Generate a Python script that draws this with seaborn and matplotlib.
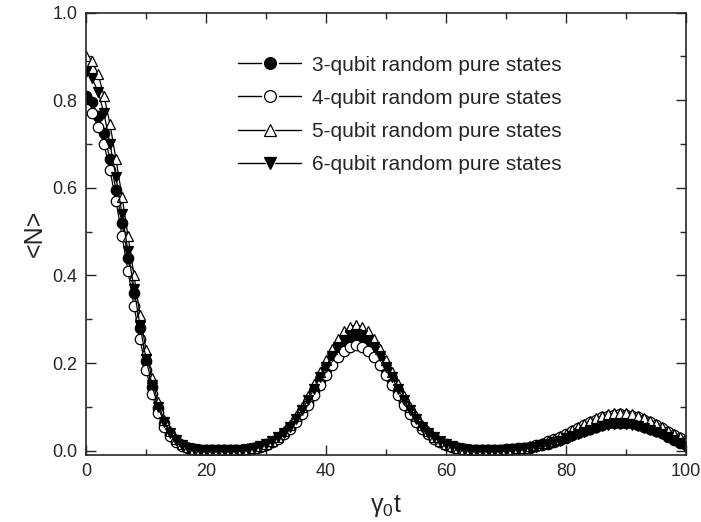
import numpy as np
import pandas as pd
import matplotlib
matplotlib.use("Agg")
import matplotlib.pyplot as plt
import seaborn as sns
from matplotlib.ticker import MultipleLocator
from matplotlib.lines import Line2D
from matplotlib.legend_handler import HandlerTuple

sns.set_style('ticks')
plt.rcParams['font.family'] = ['Liberation Sans', 'DejaVu Sans']
plt.rcParams['mathtext.default'] = 'regular'

# time axis (gamma_0 t), one point per unit
t = list(range(101))

n3 = [0.810, 0.795, 0.765, 0.725, 0.665, 0.595, 0.520, 0.440, 0.360, 0.280,
      0.205, 0.145, 0.097, 0.062, 0.038, 0.022, 0.012, 0.006, 0.003, 0.002,
      0.001, 0.001, 0.001, 0.001, 0.001, 0.001, 0.002, 0.004, 0.006, 0.009,
      0.014, 0.020, 0.029, 0.040, 0.053, 0.070, 0.090, 0.112, 0.136, 0.162,
      0.186, 0.209, 0.230, 0.245, 0.255, 0.258, 0.255, 0.245, 0.230, 0.209,
      0.186, 0.162, 0.136, 0.112, 0.090, 0.070, 0.053, 0.040, 0.029, 0.020,
      0.014, 0.009, 0.006, 0.004, 0.002, 0.001, 0.001, 0.001, 0.001, 0.001,
      0.002, 0.003, 0.004, 0.005, 0.007, 0.010, 0.013, 0.016, 0.020, 0.024,
      0.029, 0.035, 0.040, 0.045, 0.050, 0.055, 0.059, 0.062, 0.063, 0.064,
      0.063, 0.062, 0.059, 0.055, 0.050, 0.045, 0.040, 0.032, 0.025, 0.018,
      0.012]

n4 = [0.780, 0.770, 0.740, 0.700, 0.640, 0.570, 0.490, 0.410, 0.330, 0.255,
      0.185, 0.130, 0.085, 0.055, 0.033, 0.019, 0.010, 0.005, 0.003, 0.001,
      0.001, 0.001, 0.001, 0.001, 0.001, 0.001, 0.002, 0.004, 0.006, 0.009,
      0.013, 0.019, 0.027, 0.037, 0.050, 0.065, 0.084, 0.104, 0.127, 0.150,
      0.173, 0.195, 0.214, 0.228, 0.237, 0.240, 0.237, 0.228, 0.214, 0.195,
      0.173, 0.150, 0.127, 0.104, 0.084, 0.065, 0.050, 0.037, 0.027, 0.019,
      0.013, 0.009, 0.006, 0.004, 0.002, 0.001, 0.001, 0.001, 0.001, 0.002,
      0.003, 0.004, 0.005, 0.007, 0.009, 0.013, 0.016, 0.021, 0.026, 0.032,
      0.038, 0.045, 0.052, 0.059, 0.065, 0.071, 0.076, 0.080, 0.082, 0.083,
      0.082, 0.080, 0.076, 0.071, 0.065, 0.059, 0.052, 0.043, 0.036, 0.029,
      0.023]

n5 = [0.900, 0.890, 0.860, 0.810, 0.745, 0.665, 0.580, 0.490, 0.400, 0.310,
      0.230, 0.165, 0.110, 0.070, 0.045, 0.027, 0.015, 0.008, 0.004, 0.002,
      0.001, 0.001, 0.001, 0.001, 0.001, 0.002, 0.003, 0.004, 0.007, 0.010,
      0.015, 0.022, 0.032, 0.044, 0.059, 0.078, 0.100, 0.125, 0.152, 0.180,
      0.207, 0.233, 0.255, 0.272, 0.283, 0.287, 0.283, 0.272, 0.255, 0.233,
      0.207, 0.180, 0.152, 0.125, 0.100, 0.078, 0.059, 0.044, 0.032, 0.022,
      0.015, 0.010, 0.007, 0.004, 0.003, 0.002, 0.001, 0.001, 0.001, 0.002,
      0.003, 0.004, 0.005, 0.007, 0.010, 0.013, 0.017, 0.021, 0.027, 0.033,
      0.039, 0.046, 0.054, 0.061, 0.068, 0.074, 0.079, 0.083, 0.085, 0.086,
      0.085, 0.083, 0.079, 0.074, 0.068, 0.061, 0.054, 0.044, 0.037, 0.030,
      0.024]

n6 = [0.865, 0.850, 0.820, 0.770, 0.700, 0.625, 0.540, 0.455, 0.370, 0.285,
      0.210, 0.150, 0.100, 0.065, 0.040, 0.024, 0.013, 0.007, 0.004, 0.002,
      0.001, 0.001, 0.001, 0.001, 0.001, 0.001, 0.002, 0.004, 0.006, 0.010,
      0.014, 0.021, 0.030, 0.041, 0.055, 0.072, 0.093, 0.116, 0.141, 0.167,
      0.192, 0.216, 0.237, 0.252, 0.263, 0.266, 0.263, 0.252, 0.237, 0.216,
      0.192, 0.167, 0.141, 0.116, 0.093, 0.072, 0.055, 0.041, 0.030, 0.021,
      0.014, 0.010, 0.006, 0.004, 0.002, 0.001, 0.001, 0.001, 0.001, 0.001,
      0.002, 0.003, 0.004, 0.005, 0.007, 0.009, 0.012, 0.015, 0.019, 0.023,
      0.028, 0.033, 0.038, 0.043, 0.048, 0.052, 0.056, 0.059, 0.060, 0.061,
      0.060, 0.059, 0.056, 0.052, 0.048, 0.043, 0.038, 0.031, 0.024, 0.017,
      0.011]

labels = ['3-qubit random pure states', '4-qubit random pure states',
          '5-qubit random pure states', '6-qubit random pure states']
series = [n3, n4, n5, n6]
markers = ['o', 'o', '^', 'v']
faces = ['black', 'white', 'white', 'black']

fig = plt.figure(figsize=(7.01, 5.22), dpi=100)
ax = fig.add_axes([0.1227, 0.1284, 0.8559, 0.8473])

handles = []
for vals, lab, m, fc in zip(series, labels, markers, faces):
    df = pd.DataFrame({'t': t, 'N': vals})
    sns.lineplot(data=df, x='t', y='N', ax=ax, color='black', lw=0.9,
                 marker=m, markersize=7.5, markerfacecolor=fc,
                 markeredgecolor='black', markeredgewidth=0.9)
    # legend key: line broken around the symbol, Origin style
    ln = Line2D([], [], color='black', lw=1.0)
    gap = Line2D([], [], ls='none', marker=m, markersize=11,
                 markerfacecolor='white', markeredgecolor='white')
    mk = Line2D([], [], ls='none', marker=m, markersize=8.5,
                markerfacecolor=fc, markeredgecolor='black',
                markeredgewidth=0.9)
    handles.append((ln, gap, mk))

ax.set_xlim(0, 100)
ax.set_ylim(-0.01, 1.0)
ax.xaxis.set_major_locator(MultipleLocator(20))
ax.xaxis.set_minor_locator(MultipleLocator(10))
ax.yaxis.set_major_locator(MultipleLocator(0.2))
ax.yaxis.set_minor_locator(MultipleLocator(0.1))
ax.yaxis.set_major_formatter(plt.FormatStrFormatter('%.1f'))
ax.tick_params(which='both', direction='in', top=True, right=True,
               width=1, labelsize=13, pad=6)
ax.tick_params(which='major', length=7)
ax.tick_params(which='minor', length=4)
for s in ax.spines.values():
    s.set_linewidth(1.2)

ax.set_xlabel('γ$_0$t', fontsize=18, labelpad=9)
ax.set_ylabel('<N>', fontsize=18, labelpad=4)

ax.legend(handles, labels, handler_map={tuple: HandlerTuple(ndivide=1)},
          loc='upper left', bbox_to_anchor=(0.24, 0.922), frameon=False,
          fontsize=15, handlelength=3.0, handletextpad=0.55,
          labelspacing=0.68, borderaxespad=0)

fig.savefig('out.png', dpi=100)
